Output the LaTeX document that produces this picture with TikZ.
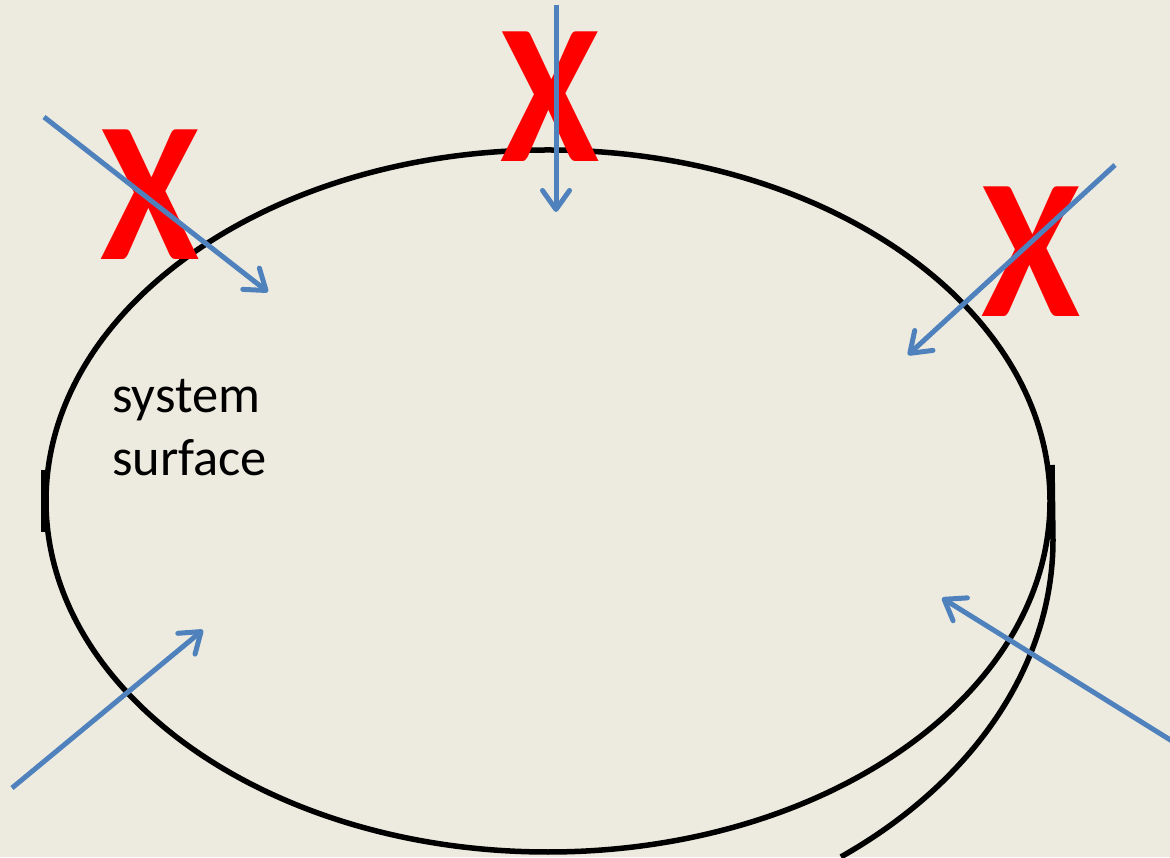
\documentclass[tikz,border=0pt]{standalone}
\usepackage{fontspec}
\setmainfont{Carlito}
\usetikzlibrary{arrows.meta}
\definecolor{bg}{HTML}{EDEBE0}
\definecolor{flow}{HTML}{4F81BD}
\definecolor{xred}{HTML}{FF0000}
\begin{document}
\begin{tikzpicture}[x=1pt,y=1pt,
  surf/.style={line width=5.5pt,black},
  flowarrow/.style={line width=5pt,flow,-{Straight Barb[length=19pt,width=27pt,line width=5pt,round]}},
  cross/.style={text=xred,inner sep=0pt,xscale=0.9,font=\fontsize{200}{200}\selectfont\bfseries},
  lbl/.style={anchor=base west,inner sep=0pt,font=\fontsize{52.5}{60}\selectfont}]
\fill[bg] (0,0) rectangle (1170,857);
\useasboundingbox (0,0) rectangle (1170,857);
% main system surface
\draw[surf] (548,356) ellipse [x radius=502pt, y radius=351pt];
% left tick
\coordinate (lt1) at (44,387);
\coordinate (lt2) at (44,325);
\draw[line width=5.5pt] (lt1) -- (lt2);
% right second arc
\coordinate (rt1) at (1052,392);
\coordinate (rt2) at (1053,317);
\draw[surf] (rt1) -- (rt2) arc [start angle=0, end angle=-52.4, x radius=544pt, y radius=400pt];
% labels
\node[lbl] (l1) at (112,444) {system};
\node[lbl] (l2) at (112,381) {surface};
% crosses
\node[cross] (x1) at (150,662) {X};
\node[cross] (x2) at (550,760) {X};
\node[cross] (x3) at (1031,605) {X};
% arrows
\coordinate (a1s) at (44,740);   \coordinate (a1e) at (268,565);
\coordinate (a2s) at (556,852);  \coordinate (a2e) at (556,645);
\coordinate (a3s) at (1115,692); \coordinate (a3e) at (908,502);
\coordinate (a4s) at (12,69);    \coordinate (a4e) at (203,227);
\coordinate (a5s) at (1172,116); \coordinate (a5e) at (942,259);
\draw[flowarrow] (a1s) -- (a1e);
\draw[flowarrow] (a2s) -- (a2e);
\draw[flowarrow] (a3s) -- (a3e);
\draw[flowarrow] (a4s) -- (a4e);
\draw[flowarrow] (a5s) -- (a5e);
\end{tikzpicture}
\end{document}
